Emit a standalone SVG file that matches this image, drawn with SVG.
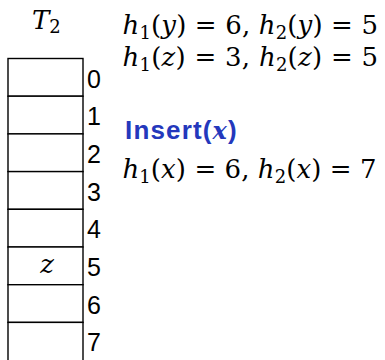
<svg xmlns="http://www.w3.org/2000/svg" width="385" height="360" viewBox="0 0 385 360">
<style>
.cell{fill:#fff;stroke:#000;stroke-width:1.4}
.idx{font-family:"Liberation Sans",Arial,sans-serif;font-size:25px;fill:#000}
.m{font-family:"DejaVu Serif","Liberation Serif",serif;font-size:26px;fill:#000;white-space:pre}
.i{font-style:italic}
.sub{font-size:18px}
.hd{font-family:"Liberation Sans",Arial,sans-serif;font-weight:bold;font-size:26px;fill:#2438BC}
.hdx{font-family:"DejaVu Serif","Liberation Serif",serif;font-style:italic;font-weight:bold;font-size:24px}
</style>
<rect width="385" height="360" fill="#fff"/>
<g id="title">
<text class="m" x="32" y="28.5"><tspan class="i">T</tspan><tspan class="sub" dy="4.5">2</tspan></text>
</g>
<g id="table">
<rect class="cell" x="8" y="58.5" width="75" height="37.7"/>
<rect class="cell" x="8" y="96.2" width="75" height="37.7"/>
<rect class="cell" x="8" y="133.9" width="75" height="37.7"/>
<rect class="cell" x="8" y="171.6" width="75" height="37.7"/>
<rect class="cell" x="8" y="209.3" width="75" height="37.7"/>
<rect class="cell" x="8" y="247" width="75" height="37.7"/>
<rect class="cell" x="8" y="284.7" width="75" height="37.7"/>
<rect class="cell" x="8" y="322.4" width="75" height="40"/>
<text class="m i" x="47" y="273" font-size="18" text-anchor="middle">z</text>
<text class="idx" x="87" y="87.5">0</text>
<text class="idx" x="87" y="125.2">1</text>
<text class="idx" x="87" y="162.9">2</text>
<text class="idx" x="87" y="200.6">3</text>
<text class="idx" x="87" y="238.3">4</text>
<text class="idx" x="87" y="276">5</text>
<text class="idx" x="87" y="313.7">6</text>
<text class="idx" x="87" y="351.4">7</text>
</g>
<g id="info">
<text class="m" x="122.5" y="33.5" textLength="255.5" lengthAdjust="spacing"><tspan class="i">h</tspan><tspan class="sub" dy="5">1</tspan><tspan dy="-5">(</tspan><tspan class="i">y</tspan>) = 6, <tspan class="i">h</tspan><tspan class="sub" dy="5">2</tspan><tspan dy="-5">(</tspan><tspan class="i">y</tspan>) = 5</text>
<text class="m" x="122.5" y="65.5" textLength="255.5" lengthAdjust="spacing"><tspan class="i">h</tspan><tspan class="sub" dy="5">1</tspan><tspan dy="-5">(</tspan><tspan class="i">z</tspan>) = 3, <tspan class="i">h</tspan><tspan class="sub" dy="5">2</tspan><tspan dy="-5">(</tspan><tspan class="i">z</tspan>) = 5</text>
<text class="hd" x="125" y="139.3" textLength="111.7" lengthAdjust="spacing">Insert(<tspan class="hdx">x</tspan>)</text>
<text class="m" x="122.5" y="178.3" textLength="254" lengthAdjust="spacing"><tspan class="i">h</tspan><tspan class="sub" dy="5">1</tspan><tspan dy="-5">(</tspan><tspan class="i">x</tspan>) = 6, <tspan class="i">h</tspan><tspan class="sub" dy="5">2</tspan><tspan dy="-5">(</tspan><tspan class="i">x</tspan>) = 7</text>
</g>
</svg>
